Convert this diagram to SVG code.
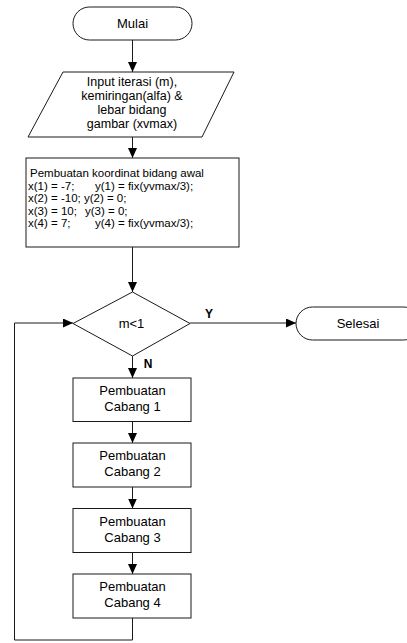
<svg xmlns="http://www.w3.org/2000/svg" width="407" height="643" viewBox="0 0 407 643">
<style>
.s{fill:#fff;stroke:#1a1a1a;stroke-width:1}
.t{font-family:"Liberation Sans",Arial,sans-serif;font-size:13px;fill:#000}
.k{font-size:11.5px}
.p{font-size:12.5px}
.c{text-anchor:middle}
.b{font-weight:bold;font-size:12px}
.l{fill:none;stroke:#1a1a1a;stroke-width:1}
</style>
<defs>
<marker id="ah" markerUnits="userSpaceOnUse" markerWidth="10" markerHeight="9" refX="10" refY="4.5" orient="auto">
<path d="M0,0 L10,4.5 L0,9 z" fill="#000"/>
</marker>
</defs>
<g id="connectors">
<path class="l" d="M132.5,40 V72" marker-end="url(#ah)"/>
<path class="l" d="M132.5,137 V158" marker-end="url(#ah)"/>
<path class="l" d="M132.5,247 V292" marker-end="url(#ah)"/>
<path class="l" d="M190,323 H296" marker-end="url(#ah)"/>
<path class="l" d="M132.5,356 V378" marker-end="url(#ah)"/>
<path class="l" d="M132.5,421.5 V443" marker-end="url(#ah)"/>
<path class="l" d="M132.5,487 V508.5" marker-end="url(#ah)"/>
<path class="l" d="M132.5,552.5 V574" marker-end="url(#ah)"/>
<path class="l" d="M132.5,618 V640 H14.5 V323 H73" marker-end="url(#ah)"/>
<text class="t b" x="209" y="318" text-anchor="middle">Y</text>
<text class="t b" x="148" y="368" text-anchor="middle">N</text>
</g>
<g id="mulai">
<rect class="s" x="73" y="7" width="119" height="33" rx="16.5"/>
<text class="t c" x="132.5" y="28">Mulai</text>
</g>
<g id="input">
<polygon class="s" points="63,72 234,72 202,137 28,137"/>
<text class="t c p" x="132" y="85.5">Input iterasi (m),</text>
<text class="t c p" x="132" y="99.5">kemiringan(alfa) &amp;</text>
<text class="t c p" x="132" y="113.5">lebar bidang</text>
<text class="t c p" x="132" y="127.5">gambar (xvmax)</text>
</g>
<g id="koordinat">
<rect class="s" x="26" y="158" width="213" height="89"/>
<text class="t k" x="30" y="177">Pembuatan koordinat bidang awal</text>
<text class="t k" x="28" y="189.5">x(1) = -7;<tspan x="95">y(1) = fix(yvmax/3);</tspan></text>
<text class="t k" x="28" y="202">x(2) = -10; y(2) = 0;</text>
<text class="t k" x="28" y="214.5">x(3) = 10;<tspan x="85">y(3) = 0;</tspan></text>
<text class="t k" x="28" y="227">x(4) = 7;<tspan x="95">y(4) = fix(yvmax/3);</tspan></text>
</g>
<g id="decision">
<polygon class="s" points="132.5,292 190,323.5 132.5,356 73,323.5"/>
<text class="t c" x="131.5" y="328">m&lt;1</text>
</g>
<g id="selesai">
<rect class="s" x="296" y="307" width="124" height="33" rx="16.5"/>
<text class="t c" x="358" y="328">Selesai</text>
</g>
<g id="cabang1">
<rect class="s" x="73" y="378" width="118" height="43.5"/>
<text class="t c" x="132.5" y="395">Pembuatan</text>
<text class="t c" x="132.5" y="411">Cabang 1</text>
</g>
<g id="cabang2">
<rect class="s" x="73" y="443" width="118" height="44"/>
<text class="t c" x="132.5" y="460">Pembuatan</text>
<text class="t c" x="132.5" y="476">Cabang 2</text>
</g>
<g id="cabang3">
<rect class="s" x="73" y="508.5" width="118" height="44"/>
<text class="t c" x="132.5" y="525.5">Pembuatan</text>
<text class="t c" x="132.5" y="541.5">Cabang 3</text>
</g>
<g id="cabang4">
<rect class="s" x="73" y="574" width="118" height="44"/>
<text class="t c" x="132.5" y="591">Pembuatan</text>
<text class="t c" x="132.5" y="607">Cabang 4</text>
</g>
</svg>
